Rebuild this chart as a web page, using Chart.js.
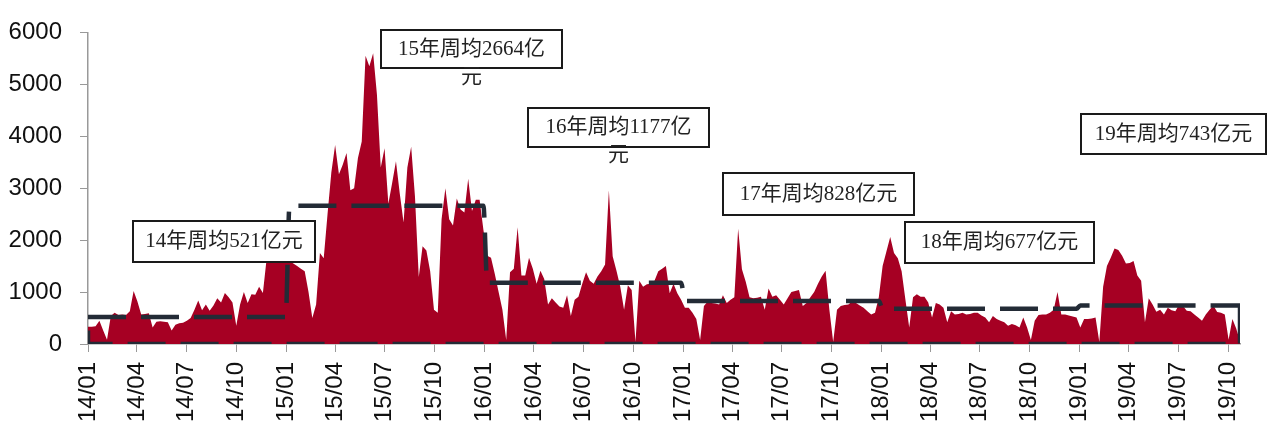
<!DOCTYPE html>
<html>
<head>
<meta charset="utf-8">
<script src="https://cdn.jsdelivr.net/npm/chart.js@4.4.1/dist/chart.umd.min.js"></script>
<style>
  html, body { margin: 0; padding: 0; background: #fff; }
  #wrap { width: 1268px; height: 426px; position: relative; }
</style>
</head>
<body>
<div id="wrap"><canvas id="issueChart"></canvas></div>
<script>
/* ===============================
   DATA (weekly issuance, 亿元)
================================= */
const weekly2014 = [330, 330, 340, 450, 260, 80, 540, 600, 560, 570, 560, 630, 1020, 820, 570, 580,
    590, 320, 430, 440, 430, 420, 260, 370, 400, 410, 450, 500, 660, 840, 650, 760, 640, 740, 880,
    800, 980, 900, 800, 350, 760, 1000, 790, 960, 950, 1100, 980, 1650, 1900, 1800, 2050, 1900, 1650];
const weekly2015 = [1600, 1550, 1500, 1450, 1400, 1000, 500, 760, 1750, 1650, 2500, 3300, 3830, 3270,
    3450, 3680, 2960, 3000, 3580, 3900, 5550, 5350, 5600, 4800, 3400, 3770, 2700, 3100, 3520, 2900,
    2340, 3400, 3800, 2840, 1290, 1880, 1800, 1400, 660, 600, 2400, 3000, 2400, 2280, 2800, 2590,
    2530, 3180, 2560, 2780, 2780, 2200];
const weekly2016 = [1700, 1660, 1350, 1000, 660, 75, 1380, 1450, 2250, 1320, 1320, 1660, 1450, 1160,
    1410, 1250, 760, 880, 800, 720, 700, 940, 540, 850, 910, 1160, 1380, 1220, 1160, 1300, 1400, 1530,
    2960, 1690, 1410, 1100, 660, 1130, 1040, 40, 1220, 1100, 1150, 1160, 1220, 1400, 1450, 1500, 975,
    1160, 975, 850];
const weekly2017 = [700, 700, 600, 480, 75, 730, 820, 790, 780, 760, 940, 790, 850, 900, 2220, 1440,
    1200, 900, 880, 890, 910, 660, 1070, 910, 940, 850, 760, 880, 1000, 1020, 1040, 730, 790, 900,
    1000, 1160, 1300, 1410, 660, 40, 660, 730, 750, 760, 820, 790, 740, 700, 630, 570, 600, 900];
const weekly2018 = [1500, 1780, 2060, 1750, 1650, 1400, 850, 320, 900, 960, 910, 910, 800, 510, 790,
    760, 700, 420, 630, 570, 580, 600, 570, 580, 600, 600, 550, 510, 420, 540, 480, 450, 420, 350,
    385, 360, 320, 510, 320, 75, 450, 560, 570, 570, 600, 660, 1000, 570, 570, 550, 530, 510];
const weekly2019 = [320, 480, 480, 490, 510, 40, 1100, 1500, 1660, 1840, 1810, 1700, 1550, 1560, 1600,
    1320, 1220, 420, 880, 760, 620, 660, 570, 700, 650, 630, 760, 730, 640, 630, 570, 510, 450, 570,
    660, 740, 615, 600, 570, 80, 480, 300, 60];

const years = ['14', '15', '16', '17', '18', '19'];
const yearAvg = [521, 2664, 1177, 828, 677, 743];

const yTicks = [0, 1000, 2000, 3000, 4000, 5000, 6000];
const quarterLabels = ['14/01', '14/04', '14/07', '14/10', '15/01', '15/04', '15/07', '15/10',
    '16/01', '16/04', '16/07', '16/10', '17/01', '17/04', '17/07', '17/10',
    '18/01', '18/04', '18/07', '18/10', '19/01', '19/04', '19/07', '19/10'];

/* ===============================
   SERIES BUILD
================================= */
const DAY = 86400000;
const START = Date.UTC(2014, 0, 1);

// x position of everything is days since 2014-01-01
const quarterDays = quarterLabels.map(l => {
    const [yy, mm] = l.split('/').map(Number);
    return (Date.UTC(2000 + yy, mm - 1, 1) - START) / DAY;
});

const yearSeries = [weekly2014, weekly2015, weekly2016, weekly2017, weekly2018, weekly2019];

const areaPoints = [];
const avgPoints = [];
yearSeries.forEach((vals, yi) => {
    vals.forEach(v => {
        const x = areaPoints.length * 7;
        areaPoints.push({ x, y: v });
        avgPoints.push({ x, y: yearAvg[yi] });
    });
});
const lastX = areaPoints[areaPoints.length - 1].x;

// right side, baseline and left side of the average outline
const framePoints = [
    { x: lastX, y: yearAvg[yearAvg.length - 1] },
    { x: lastX, y: 0 },
    { x: 0, y: 0 },
    { x: 0, y: yearAvg[0] }
];

/* ===============================
   YEAR NOTES
================================= */
const notes = [
    { yi: 0, x: 133, y: 221, w: 182, h: 41, wrap: false },
    { yi: 1, x: 381, y: 30, w: 181, h: 38, wrap: true },
    { yi: 2, x: 528, y: 108, w: 181, h: 39, wrap: true },
    { yi: 3, x: 723, y: 173, w: 191, h: 42, wrap: false },
    { yi: 4, x: 905, y: 222, w: 189, h: 41, wrap: false },
    { yi: 5, x: 1081, y: 114, w: 185, h: 40, wrap: false }
];

const notesPlugin = {
    id: 'yearNotes',
    afterDraw(chart) {
        const ctx = chart.ctx;
        ctx.save();
        notes.forEach(n => {
            const text = years[n.yi] + '年周均' + yearAvg[n.yi] + '亿元';
            const lines = n.wrap ? [text.slice(0, -1), text.slice(-1)] : [text];
            ctx.fillStyle = '#fff';
            ctx.fillRect(n.x, n.y, n.w, n.h);
            ctx.lineWidth = 2;
            ctx.strokeStyle = '#1a1a1a';
            ctx.strokeRect(n.x, n.y, n.w, n.h);
            ctx.fillStyle = '#222';
            ctx.font = '21px "Liberation Serif", "Noto Sans CJK SC", serif';
            ctx.textAlign = 'center';
            ctx.textBaseline = 'middle';
            lines.forEach((t, i) => ctx.fillText(t, n.x + n.w / 2, n.y + n.h / 2 + i * 28));
        });
        ctx.restore();
    }
};

/* ===============================
   CHART
================================= */
const dashStyle = {
    borderColor: '#232b36',
    borderWidth: 4.5,
    borderDash: [38, 15],
    pointRadius: 0,
    fill: false
};

new Chart(document.getElementById('issueChart'), {
    type: 'line',
    data: {
        datasets: [
            { ...dashStyle, data: avgPoints, cubicInterpolationMode: 'monotone', order: 1 },
            { ...dashStyle, data: framePoints, tension: 0, order: 2 },
            {
                data: areaPoints,
                backgroundColor: 'rgb(166,0,35)',
                borderWidth: 0,
                pointRadius: 0,
                fill: 'origin',
                tension: 0,
                order: 3
            }
        ]
    },
    options: {
        responsive: true,
        maintainAspectRatio: false,
        animation: false,
        events: [],
        layout: { padding: { top: 22, right: 28, left: 0, bottom: 0 } },
        plugins: { legend: { display: false }, tooltip: { enabled: false } },
        scales: {
            x: {
                type: 'linear',
                min: 0,
                max: lastX,
                afterBuildTicks: scale => {
                    scale.ticks = quarterDays.map(v => ({ value: v }));
                },
                afterFit: scale => { scale.height = 82; },
                grid: { drawOnChartArea: false, drawTicks: true, tickLength: 8, color: '#999' },
                border: { color: '#999', width: 1.5 },
                ticks: {
                    autoSkip: false,
                    minRotation: 90,
                    maxRotation: 90,
                    padding: 10,
                    color: '#111',
                    font: { family: '"Liberation Sans", Arial, sans-serif', size: 24 },
                    callback: v => quarterLabels[quarterDays.indexOf(v)]
                }
            },
            y: {
                min: 0,
                max: 6000,
                afterBuildTicks: scale => {
                    scale.ticks = yTicks.map(v => ({ value: v }));
                },
                afterFit: scale => { scale.width = 88; },
                grid: { drawOnChartArea: false, drawTicks: true, tickLength: 8, color: '#999' },
                border: { color: '#999', width: 1.5 },
                ticks: {
                    padding: 18,
                    color: '#111',
                    font: { family: '"Liberation Sans", Arial, sans-serif', size: 24 },
                    callback: v => String(v)
                }
            }
        }
    },
    plugins: [notesPlugin]
});
</script>
</body>
</html>
